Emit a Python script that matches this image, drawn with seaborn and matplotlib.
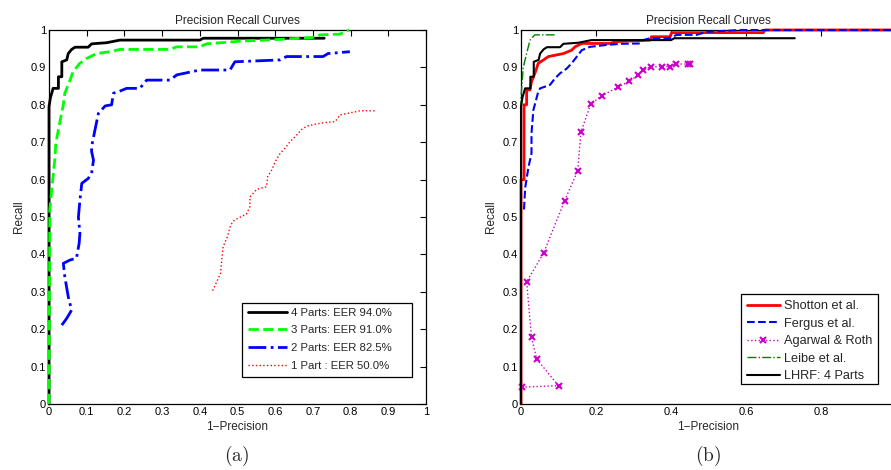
import matplotlib
matplotlib.use("Agg")
import matplotlib.pyplot as plt
from matplotlib.patches import Rectangle
import numpy as np
import seaborn as sns

# (a) curves: number of parts
parts4_x = [0, 0, 0.004, 0.011, 0.025, 0.025, 0.034, 0.034, 0.047, 0.051, 0.06, 0.069, 0.104, 0.113,
            0.153, 0.188, 0.4, 0.409, 0.73]
parts4_y = [0, 0.795, 0.82, 0.844, 0.844, 0.875, 0.875, 0.915, 0.92, 0.937, 0.948, 0.954, 0.954, 0.963,
            0.966, 0.973, 0.973, 0.978, 0.978]
parts3_x = [0, 0.002, 0.016, 0.018, 0.03, 0.038, 0.042, 0.056, 0.064, 0.082, 0.1, 0.126, 0.162, 0.188,
            0.32, 0.339, 0.4, 0.418, 0.507, 0.613, 0.7, 0.719, 0.772, 0.796]
parts3_y = [0, 0.52, 0.66, 0.697, 0.76, 0.8, 0.831, 0.866, 0.889, 0.911, 0.924, 0.937, 0.942, 0.948,
            0.948, 0.955, 0.955, 0.963, 0.97, 0.975, 0.98, 0.987, 0.989, 1.0]
parts2_x = [0.034, 0.047, 0.06, 0.051, 0.042, 0.038, 0.056, 0.073, 0.08, 0.082, 0.078, 0.082, 0.087,
            0.104, 0.113, 0.118, 0.113, 0.113, 0.122, 0.131, 0.149, 0.166, 0.171, 0.184, 0.206, 0.241,
            0.259, 0.321, 0.339, 0.4, 0.48, 0.493, 0.613, 0.63, 0.727, 0.74, 0.798]
parts2_y = [0.211, 0.229, 0.251, 0.287, 0.34, 0.376, 0.385, 0.39, 0.43, 0.456, 0.5, 0.545, 0.59,
            0.603, 0.617, 0.652, 0.675, 0.688, 0.733, 0.777, 0.797, 0.8, 0.831, 0.835, 0.844, 0.844,
            0.866, 0.866, 0.88, 0.893, 0.893, 0.915, 0.92, 0.929, 0.929, 0.937, 0.942]
parts1_x = [0.434, 0.445, 0.455, 0.459, 0.462, 0.473, 0.482, 0.492, 0.524, 0.533, 0.533, 0.551, 0.577,
            0.58, 0.591, 0.6, 0.613, 0.626, 0.639, 0.657, 0.67, 0.684, 0.71, 0.737, 0.759, 0.772,
            0.825, 0.869]
parts1_y = [0.303, 0.327, 0.349, 0.394, 0.421, 0.447, 0.479, 0.492, 0.508, 0.528, 0.554, 0.574, 0.581,
            0.608, 0.626, 0.648, 0.67, 0.684, 0.701, 0.719, 0.734, 0.743, 0.749, 0.753, 0.755, 0.773,
            0.784, 0.784]

# (b) comparison with other methods
shotton_x = [0, 0, 0.008, 0.008, 0.015, 0.015, 0.024, 0.028, 0.037, 0.046, 0.06, 0.073, 0.113, 0.135,
             0.144, 0.162, 0.237, 0.255, 0.344, 0.348, 0.397, 0.402, 0.646, 0.651, 1.0]
shotton_y = [0, 0.6, 0.6, 0.8, 0.8, 0.84, 0.84, 0.862, 0.884, 0.911, 0.92, 0.929, 0.937, 0.946,
             0.955, 0.964, 0.964, 0.969, 0.973, 0.982, 0.982, 0.993, 0.993, 1.0, 1.0]
fergus_x = [0.008, 0.011, 0.02, 0.028, 0.028, 0.033, 0.046, 0.051, 0.077, 0.091, 0.104, 0.122, 0.135,
            0.149, 0.162, 0.184, 0.228, 0.264, 0.317, 0.326, 0.344, 0.397, 0.415, 0.468, 0.495, 0.584,
            1.0]
fergus_y = [0.52, 0.577, 0.634, 0.67, 0.724, 0.786, 0.835, 0.844, 0.853, 0.871, 0.884, 0.897, 0.911,
            0.929, 0.946, 0.955, 0.96, 0.963, 0.964, 0.973, 0.978, 0.978, 0.987, 0.987, 0.995, 1.0,
            1.0]
agarwal_x = [0.002, 0.1, 0.042, 0.028, 0.015, 0.06, 0.116, 0.151, 0.16, 0.186, 0.215, 0.258, 0.289,
             0.313, 0.326, 0.346, 0.375, 0.396, 0.413, 0.446, 0.451]
agarwal_y = [0.045, 0.049, 0.12, 0.178, 0.327, 0.403, 0.543, 0.623, 0.728, 0.802, 0.824, 0.847, 0.863,
             0.88, 0.893, 0.902, 0.902, 0.902, 0.909, 0.909, 0.909]
leibe_x = [0, 0, 0.006, 0.015, 0.024, 0.037, 0.095]
leibe_y = [0, 0.82, 0.9, 0.937, 0.973, 0.987, 0.987]

sns.set_style("white")
plt.rcParams['font.family'] = ['Liberation Sans', 'DejaVu Sans']
plt.rcParams['mathtext.fontset'] = 'cm'

fig = plt.figure(figsize=(8.91, 4.70), dpi=100)
ax1 = fig.add_axes([49 / 891, 66 / 470, 377 / 891, 374 / 470])
ax2 = fig.add_axes([521 / 891, 66 / 470, 375 / 891, 374 / 470])


def curve(ax, x, y, marker=None, **kw):
    sns.lineplot(x=np.array(x), y=np.array(y), sort=False, estimator=None, ax=ax, **kw)
    line = ax.get_lines()[-1]
    line.set_clip_on(False)
    line.set_zorder(3)
    if marker:
        line.set_marker(marker)
        line.set_markersize(5)
        line.set_markeredgewidth(1.5)
        line.set_markeredgecolor(kw['color'])
    return line


curve(ax1, parts4_x, parts4_y, color='black', lw=2, label='4 Parts: EER 94.0%')
curve(ax1, parts3_x, parts3_y, color='#00ff00', lw=2, linestyle='--', label='3 Parts: EER 91.0%')
curve(ax1, parts2_x, parts2_y, color='blue', lw=2, linestyle='-.', label='2 Parts: EER 82.5%')
curve(ax1, parts1_x, parts1_y, color='red', lw=1, linestyle=':', label='1 Part : EER 50.0%')

curve(ax2, shotton_x, shotton_y, color='red', lw=2, label='Shotton et al.')
curve(ax2, fergus_x, fergus_y, color='blue', lw=1.5, linestyle='--', label='Fergus et al.')
curve(ax2, agarwal_x, agarwal_y, marker='x', color='#cc00cc', lw=1, linestyle=':',
      label='Agarwal & Roth')
curve(ax2, leibe_x, leibe_y, color='#008000', lw=1, linestyle='-.', label='Leibe et al.')
curve(ax2, parts4_x, parts4_y, color='black', lw=1.5, label='LHRF: 4 Parts')

for ax in (ax1, ax2):
    ax.set_xlim(0, 1)
    ax.set_ylim(0, 1)
    ax.set_yticks(np.arange(0, 1.01, 0.1))
    ax.set_yticklabels(['0'] + [f'{v:.1f}' for v in np.arange(0.1, 0.95, 0.1)] + ['1'])
    ax.tick_params(direction='in', top=True, right=True, length=4, width=0.8,
                   labelsize=8, colors='black', pad=2)
    for s in ax.spines.values():
        s.set_visible(True)
        s.set_color('black')
        s.set_linewidth(0.9)
    ax.set_title('Precision Recall Curves', fontsize=8.5, pad=4)
    ax.set_xlabel('1\u2212Precision', fontsize=8.5, labelpad=3)
    ax.set_ylabel('Recall', fontsize=8.5, labelpad=4)

ax1.set_xticks(np.arange(0, 1.01, 0.1))
ax1.set_xticklabels(['0'] + [f'{v:.1f}' for v in np.arange(0.1, 0.95, 0.1)] + ['1'])
ax2.set_xticks([0, 0.2, 0.4, 0.6, 0.8])
ax2.set_xticklabels(['0', '0.2', '0.4', '0.6', '0.8'])
ax2.tick_params(right=False)

# legend boxes drawn as MATLAB-style frames, entries placed inside without a frame
for ax, box in ((ax1, (0.511, 0.0714, 0.451, 0.198)), (ax2, (0.587, 0.0535, 0.364, 0.24))):
    ax.add_patch(Rectangle(box[:2], box[2], box[3], transform=ax.transAxes, facecolor='white',
                           edgecolor='black', lw=0.9, zorder=4, clip_on=False))

leg_kw = dict(loc='upper left', frameon=False, borderaxespad=0, borderpad=0, handletextpad=0.35)
l1 = ax1.legend(bbox_to_anchor=(0.528, 0.258), fontsize=8.2, handlelength=3.4,
                labelspacing=0.68, **leg_kw)
l2 = ax2.legend(bbox_to_anchor=(0.602, 0.278), fontsize=9.2, handlelength=2.6,
                labelspacing=0.43, **leg_kw)
for l in (l1, l2):
    l.set_zorder(5)

fig.text(237 / 891, 1 - 456 / 470, r'$\mathrm{(a)}$', ha='center', va='center', fontsize=14)
fig.text(708 / 891, 1 - 456 / 470, r'$\mathrm{(b)}$', ha='center', va='center', fontsize=14)

fig.savefig('out.png', dpi=100)
